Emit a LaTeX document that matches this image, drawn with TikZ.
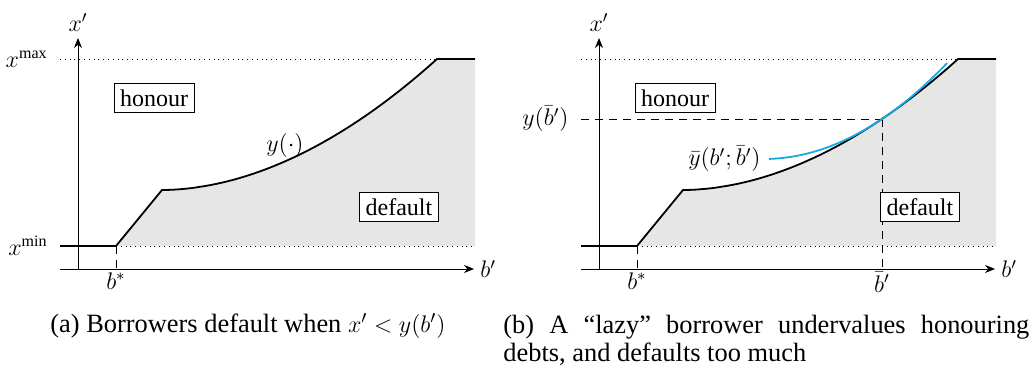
\documentclass[tikz,border=0pt]{standalone}
\usepackage{fontspec}
\setmainfont{Liberation Serif}
\usetikzlibrary{arrows.meta}
\definecolor{regiongray}{HTML}{E6E6E6}
\definecolor{lazyblue}{HTML}{17A9E1}
\tikzset{
  ax/.style={line width=0.45pt,-{Stealth[length=5pt,width=4pt]}},
  curveline/.style={line width=0.9pt,line join=round},
  guide/.style={line width=0.4pt,dotted},
  helper/.style={line width=0.45pt,dash pattern=on 4pt off 3pt},
  regionbox/.style={draw,line width=0.45pt,fill=white,inner sep=3pt,font=\fontsize{12}{13}\selectfont},
  lbl/.style={font=\fontsize{12}{13}\selectfont,inner sep=1.5pt},
  captext/.style={inner sep=0pt,font=\fontsize{13.2}{14}\selectfont}
}
\begin{document}
\begin{tikzpicture}[x=0.5pt,y=-0.5pt]
\useasboundingbox (0,0) rectangle (1035,370);
% ---------------- panel (a)
\begin{scope}
  \coordinate (aL) at (60,246);
  \coordinate (aS) at (116,246);
  \coordinate (aK) at (162,190);
  \coordinate (aR) at (475,59);
  \coordinate (aRB) at (475,246);
  \coordinate (aML) at (60,59);
  \coordinate (aAx0) at (60,269);
  \coordinate (aAx1) at (474,269);
  \coordinate (aAy0) at (78,269);
  \coordinate (aAy1) at (78,38);
  \coordinate (aSb) at (116,269);
  \fill[regiongray] (aS) -- (aK) -- plot[domain=0:275,samples=60,smooth] ({162+\x},{190-131*(\x/275)^1.89}) -- (aR) -- (aRB) -- cycle;
  \draw[guide] (aML) -- (aR);
  \draw[guide] (aS) -- (aRB);
  \draw[helper] (aS) -- (aSb);
  \draw[ax] (aAx0) -- (aAx1);
  \draw[ax] (aAy0) -- (aAy1);
  \draw[curveline] (aL) -- (aS) -- (aK) -- plot[domain=0:275,samples=60,smooth] ({162+\x},{190-131*(\x/275)^1.89}) -- (aR);
  \node[lbl,anchor=south,inner sep=3pt] (axl) at (aAy1) {$x'$};
  \node[lbl,anchor=west,inner sep=3pt] (abl) at (aAx1) {$b'$};
  \node[lbl,anchor=east] (axmax) at (51,59) {$x^{\max}$};
  \node[lbl,anchor=east] (axmin) at (51,246) {$x^{\min}$};
  \node[lbl,anchor=north] (abs) at (aSb) {$b^{*}$};
  \node[regionbox] (ahon) at (154,98) {honour};
  \node[regionbox] (adef) at (399,207) {default};
  \node[lbl] (ay) at (285,145) {$y(\cdot)$};
\end{scope}
\node[captext,anchor=base west] (acap) at (50,332) {(a) Borrowers default when $x'<y(b')$};
% ---------------- panel (b)
\begin{scope}[xshift=260.5pt]
  \coordinate (bL) at (60,246);
  \coordinate (bS) at (116,246);
  \coordinate (bK) at (162,190);
  \coordinate (bR) at (475,59);
  \coordinate (bRB) at (475,246);
  \coordinate (bML) at (60,59);
  \coordinate (bAx0) at (60,269);
  \coordinate (bAx1) at (474,269);
  \coordinate (bAy0) at (78,269);
  \coordinate (bAy1) at (78,38);
  \coordinate (bSb) at (116,269);
  \coordinate (bP) at (361,119);
  \coordinate (bPl) at (60,119);
  \coordinate (bPb) at (361,269);
  \fill[regiongray] (bS) -- (bK) -- plot[domain=0:275,samples=60,smooth] ({162+\x},{190-131*(\x/275)^1.89}) -- (bR) -- (bRB) -- cycle;
  \draw[guide] (bML) -- (bR);
  \draw[guide] (bS) -- (bRB);
  \draw[helper] (bS) -- (bSb);
  \draw[helper] (bPl) -- (bP);
  \draw[helper] (bP) -- (bPb);
  \draw[ax] (bAx0) -- (bAx1);
  \draw[ax] (bAy0) -- (bAy1);
  \draw[curveline] (bL) -- (bS) -- (bK) -- plot[domain=0:275,samples=60,smooth] ({162+\x},{190-131*(\x/275)^1.89}) -- (bR);
  \draw[lazyblue,line width=0.9pt] plot[domain=-113:65,samples=50,smooth] ({361+\x},{119-0.674*\x-0.002835*\x*\x});
  \node[lbl,anchor=south,inner sep=3pt] (bxl) at (bAy1) {$x'$};
  \node[lbl,anchor=west,inner sep=3pt] (bbl) at (bAx1) {$b'$};
  \node[lbl,anchor=east] (byb) at (51,119) {$y(\bar b')$};
  \node[lbl,anchor=north] (bbs) at (bSb) {$b^{*}$};
  \node[lbl,anchor=north] (bbb) at (bPb) {$\bar b'$};
  \node[regionbox] (bhon) at (154,98) {honour};
  \node[regionbox] (bdef) at (399,207) {default};
  \node[lbl,anchor=east] (byl) at (243,159) {$\bar y(b';\bar b')$};
\end{scope}
\node[captext,anchor=base west,text width=263pt,align=justify] (bcap) at (503,333) {(b) A ``lazy'' borrower undervalues honouring\linebreak debts, and defaults too much};
\end{tikzpicture}
\end{document}
